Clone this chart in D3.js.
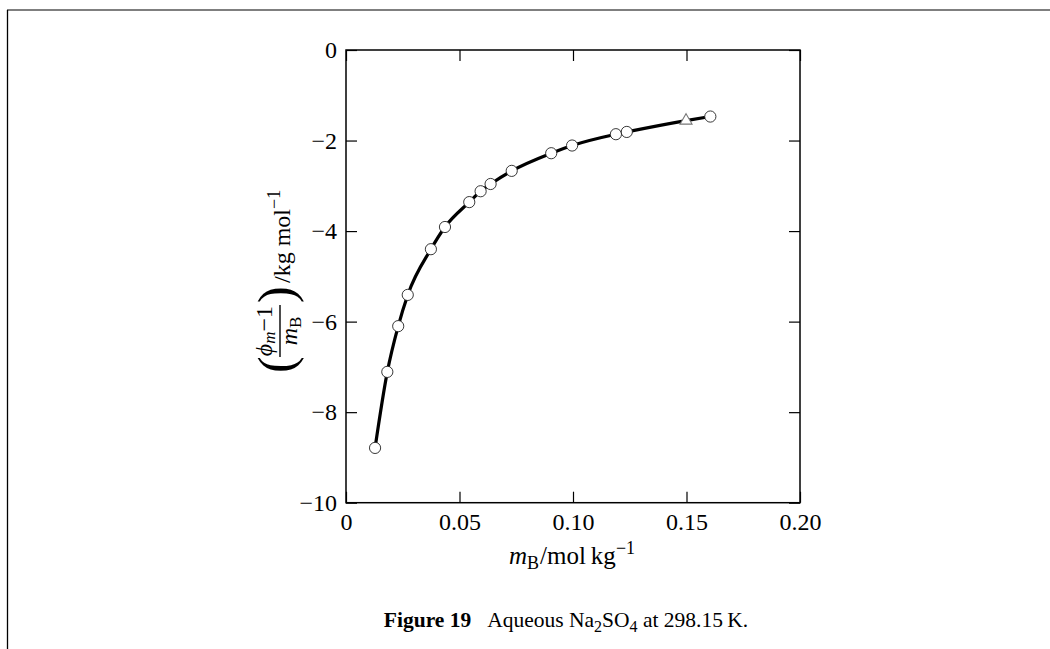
<!DOCTYPE html>
<html>
<head>
<meta charset="utf-8">
<script src="https://cdn.jsdelivr.net/npm/d3@7"></script>
<style>
  html, body { margin: 0; padding: 0; background: #fff; }
  svg text { font-family: "Liberation Serif", "Times New Roman", serif; fill: #000; }
</style>
</head>
<body>
<svg id="chart" width="1050" height="649"></svg>
<script>
// ---- data ----
const circleM   = [0.0128, 0.0182, 0.0230, 0.0272, 0.0374, 0.0436, 0.0543, 0.0593, 0.0637, 0.0730, 0.0904, 0.0996, 0.1189, 0.1237, 0.1605];
const circleVal = [-8.79, -7.11, -6.10, -5.41, -4.40, -3.91, -3.36, -3.12, -2.96, -2.67, -2.28, -2.11, -1.86, -1.81, -1.47];
const triangleM   = [0.1498];
const triangleVal = [-1.56];
const xTicks = [0, 0.05, 0.10, 0.15, 0.20];
const yTicks = [0, -2, -4, -6, -8, -10];

const svg = d3.select("#chart");
const W = 1050, H = 649;

// page frame
svg.append("line").attr("x1", 7).attr("y1", 10).attr("x2", W).attr("y2", 10)
  .attr("stroke", "#555").attr("stroke-width", 1.5);
svg.append("line").attr("x1", 7.5).attr("y1", 10).attr("x2", 7.5).attr("y2", H)
  .attr("stroke", "#000").attr("stroke-width", 1.3);

const pLeft = 346, pRight = 800, pTop = 50, pBottom = 502.7;
const x = d3.scaleLinear().domain([0, 0.2]).range([pLeft, pRight]);
const y = d3.scaleLinear().domain([-10, 0]).range([pBottom, pTop]);

const fmtX = d => d === 0 ? "0" : d3.format(".2f")(d);
const fmtY = d => d === 0 ? "0" : d3.format("d")(d);
const TS = 11;

function styleAxis(g) {
  g.select(".domain").remove();
  g.selectAll(".tick line").attr("stroke", "#000").attr("stroke-width", 1.2);
  g.selectAll(".tick text").attr("font-size", 24).attr("font-family", "Liberation Serif");
}

svg.append("g").attr("transform", `translate(0,${pBottom})`)
  .call(d3.axisBottom(x).tickValues(xTicks).tickFormat(fmtX).tickSize(-TS).tickPadding(10))
  .call(styleAxis);
svg.append("g").attr("transform", `translate(0,${pTop})`)
  .call(d3.axisTop(x).tickValues(xTicks).tickFormat("").tickSize(-TS))
  .call(styleAxis);
svg.append("g").attr("transform", `translate(${pLeft},0)`)
  .call(d3.axisLeft(y).tickValues(yTicks).tickFormat(fmtY).tickSize(-TS).tickPadding(9))
  .call(styleAxis);
svg.append("g").attr("transform", `translate(${pRight},0)`)
  .call(d3.axisRight(y).tickValues(yTicks).tickFormat("").tickSize(-TS))
  .call(styleAxis);

// frame
svg.append("rect").attr("x", pLeft).attr("y", pTop)
  .attr("width", pRight - pLeft).attr("height", pBottom - pTop)
  .attr("fill", "none").attr("stroke", "#000").attr("stroke-width", 1.5);

// curve through all points
const pts = circleM.map((m, i) => [m, circleVal[i]])
  .concat(triangleM.map((m, i) => [m, triangleVal[i]]))
  .sort((a, b) => a[0] - b[0]);
const line = d3.line().x(d => x(d[0])).y(d => y(d[1])).curve(d3.curveMonotoneX);
svg.append("path").datum(pts).attr("d", line)
  .attr("fill", "none").attr("stroke", "#000").attr("stroke-width", 3.2);

// circles
svg.append("g").selectAll("circle").data(circleM).join("circle")
  .attr("cx", d => x(d)).attr("cy", (d, i) => y(circleVal[i])).attr("r", 5.6)
  .attr("fill", "#fff").attr("stroke", "#222").attr("stroke-width", 0.9);

// triangle
svg.append("g").selectAll("path").data(triangleM).join("path")
  .attr("d", d3.symbol(d3.symbolTriangle, 62))
  .attr("transform", (d, i) => `translate(${x(d)},${y(triangleVal[i])})`)
  .attr("fill", "#fff").attr("stroke", "#777").attr("stroke-width", 1.1);

// x-axis label
const xl = svg.append("text").attr("x", 572).attr("y", 564).attr("text-anchor", "middle").attr("font-size", 25);
xl.append("tspan").attr("font-style", "italic").text("m");
xl.append("tspan").attr("font-size", 18).attr("dy", 5).text("B");
xl.append("tspan").attr("dy", -5).attr("dx", 1).text("/mol\u2009kg");
xl.append("tspan").attr("font-size", 18).attr("dy", -10).text("\u22121");

// y-axis label (rotated)
const yg = svg.append("g").attr("transform", "translate(280,276) rotate(-90)");
yg.append("text").attr("x", -97).attr("y", 13).attr("font-size", 50).text("(");
const num = yg.append("text").attr("x", -55).attr("y", -8).attr("text-anchor", "middle").attr("font-size", 24);
num.append("tspan").attr("font-style", "italic").text("\u03D5");
num.append("tspan").attr("font-style", "italic").attr("font-size", 17).attr("dy", 3).text("m");
num.append("tspan").attr("dy", -3).text("\u22121");
yg.append("line").attr("x1", -81).attr("x2", -29).attr("y1", 0).attr("y2", 0)
  .attr("stroke", "#000").attr("stroke-width", 1.4);
const den = yg.append("text").attr("x", -55).attr("y", 17).attr("text-anchor", "middle").attr("font-size", 24);
den.append("tspan").attr("font-style", "italic").text("m");
den.append("tspan").attr("font-size", 17).attr("dy", 4).text("B");
yg.append("text").attr("x", -27).attr("y", 13).attr("font-size", 50).text(")");
const unit = yg.append("text").attr("x", -7).attr("y", 10).attr("font-size", 24);
unit.append("tspan").text("/kg mol");
unit.append("tspan").attr("font-size", 18).attr("dy", -10).text("\u22121");

// caption
const cap = svg.append("text").attr("x", 566).attr("y", 627).attr("text-anchor", "middle").attr("font-size", 21.5);
cap.append("tspan").attr("font-weight", "bold").text("Figure 19");
cap.append("tspan").attr("dx", 16).text("Aqueous Na");
cap.append("tspan").attr("font-size", 16).attr("dy", 5).text("2");
cap.append("tspan").attr("dy", -5).text("SO");
cap.append("tspan").attr("font-size", 16).attr("dy", 5).text("4");
cap.append("tspan").attr("dy", -5).text(" at 298.15\u2009K.");
</script>
</body>
</html>
